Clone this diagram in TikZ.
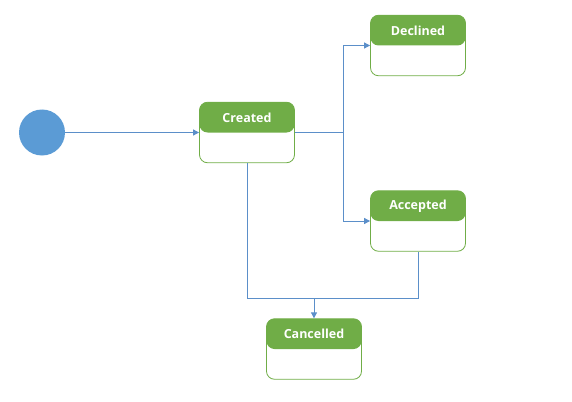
\documentclass[tikz,border=0pt]{standalone}
\usepackage{fontspec}
\setmainfont{Open Sans}
\usetikzlibrary{arrows.meta}
\definecolor{hdr}{HTML}{70AD47}
\definecolor{lnk}{HTML}{5B8FC9}
\definecolor{dot}{HTML}{5B9BD5}
\begin{document}
\begin{tikzpicture}[x=1pt,y=-1pt,
  state/.style={draw=hdr, line width=0.8pt, rounded corners=8pt, minimum width=95pt, minimum height=60.5pt, inner sep=0pt,
    path picture={\fill[hdr] (path picture bounding box.north west) rectangle (path picture bounding box.east);}},
  title/.style={text=white, font=\bfseries\fontsize{12.5}{14}\selectfont},
  link/.style={draw=lnk, line width=0.8pt},
  arr/.style={-{Triangle[length=6pt,width=6pt]}}]
\useasboundingbox (0,0) rectangle (572,401);
\node[circle, fill=dot, minimum size=46pt, inner sep=0pt] (start) at (42,132.5) {};
\node[state] (created) at (247,132.5) {};
\node[state] (declined) at (418,45.5) {};
\node[state] (accepted) at (418,221) {};
\node[state] (cancelled) at (314,349) {};
\node[title] (createdT) at ([yshift=15pt]created.center) {Created};
\node[title] (declinedT) at ([yshift=15pt]declined.center) {Declined};
\node[title] (acceptedT) at ([yshift=15pt]accepted.center) {Accepted};
\node[title] (cancelledT) at ([yshift=15pt]cancelled.center) {Cancelled};
\coordinate (split) at (343,132.5);
\coordinate (join) at (314,298.5);
\draw[link,arr] (start.east) -- (created.west);
\draw[link] (created.east) -- (split);
\draw[link,arr] (split) |- (declined.west);
\draw[link,arr] (split) |- (accepted.west);
\draw[link] (created.south) |- (join) -| (accepted.south);
\draw[link,arr] (join) -- (cancelled.north);
\end{tikzpicture}
\end{document}
